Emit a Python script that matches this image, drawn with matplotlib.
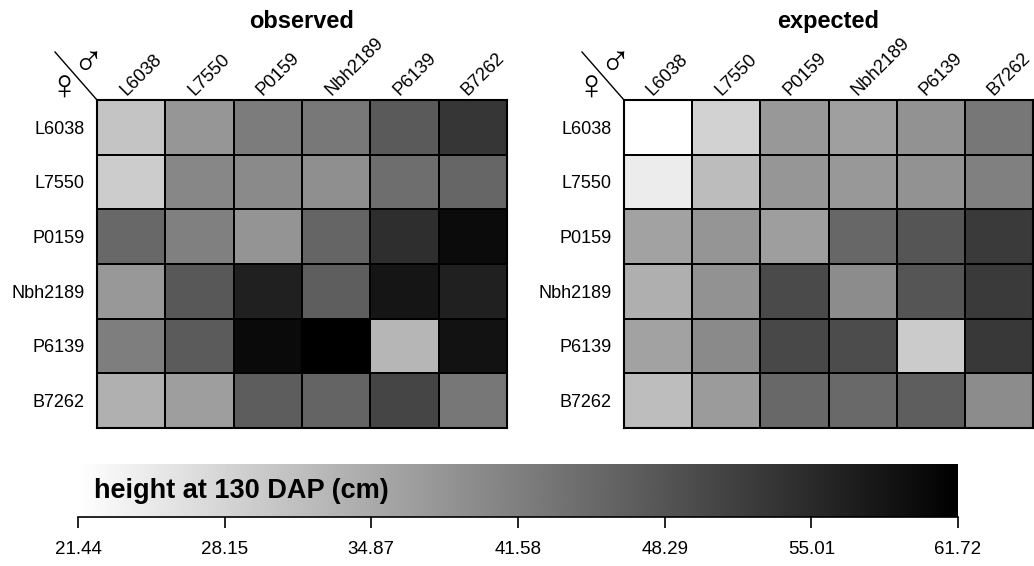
import numpy as np
import matplotlib
matplotlib.use("Agg")
import matplotlib.pyplot as plt
from matplotlib.colors import LinearSegmentedColormap

plt.rcParams['font.family'] = ['Liberation Sans', 'DejaVu Sans']

# parental lines (rows = female, columns = male)
lines = ["L6038", "L7550", "P0159", "Nbh2189", "P6139", "B7262"]

# plant height at 130 DAP (cm)
observed = np.array([
    [30.76, 38.03, 42.13, 42.76, 47.50, 53.19],
    [29.50, 40.40, 39.92, 39.13, 44.34, 45.61],
    [45.29, 41.50, 38.34, 45.77, 54.45, 59.98],
    [37.71, 47.82, 56.66, 46.87, 58.40, 56.66],
    [41.82, 47.35, 60.14, 61.72, 32.97, 58.88],
    [33.92, 36.76, 47.03, 45.92, 50.82, 42.92],
])
expected = np.array([
    [21.44, 28.55, 37.71, 36.60, 38.66, 42.92],
    [24.44, 32.02, 38.03, 37.71, 38.66, 41.50],
    [36.13, 38.18, 36.76, 45.45, 48.29, 52.56],
    [34.08, 38.66, 50.03, 39.61, 48.29, 52.56],
    [36.13, 39.92, 50.35, 49.71, 29.65, 52.87],
    [31.87, 37.24, 45.29, 45.13, 46.87, 39.61],
])

W, H = 1034, 566
fig = plt.figure(figsize=(W / 100, H / 100), dpi=100)

def px_axes(x0, y0, x1, y1):
    # axes from pixel box (top-left origin)
    return fig.add_axes([x0 / W, 1 - y1 / H, (x1 - x0) / W, (y1 - y0) / H])

cmap = LinearSegmentedColormap.from_list("wb", ["white", "black"])
vmin = min(observed.min(), expected.min())
vmax = max(observed.max(), expected.max())


def heat(ax, data, title, x0):
    n = len(lines)
    ax.pcolormesh(np.arange(n + 1), np.arange(n + 1), data, cmap=cmap,
                  vmin=vmin, vmax=vmax, edgecolors="black", linewidth=1.3)
    ax.set_xlim(0, n)
    ax.set_ylim(n, 0)
    ax.set_xticks([])
    ax.set_yticks(np.arange(n) + 0.5)
    ax.set_yticklabels(lines, fontsize=13)
    ax.tick_params(axis="y", length=0, pad=9)
    for s in ax.spines.values():
        s.set_linewidth(1.5)
    for i, lab in enumerate(lines):
        ax.annotate(lab, xy=(i + 0.5, 0), xycoords="data",
                    xytext=(-6, 5), textcoords="offset points",
                    rotation=45, rotation_mode="anchor",
                    ha="left", va="center", fontsize=13.2,
                    annotation_clip=False)
    ax.set_title(title, fontsize=17, fontweight="bold", pad=52)
    # female / male corner
    fig.add_artist(plt.Line2D([(x0 - 42) / W, x0 / W],
                              [1 - 52 / H, 1 - 100 / H],
                              color="black", linewidth=1))
    fig.text((x0 - 33) / W, 1 - 89 / H, "\u2640", fontsize=30,
             ha="center", va="center")
    fig.text((x0 - 9) / W, 1 - 64 / H, "\u2642", fontsize=30,
             ha="center", va="center")


ax1 = px_axes(97, 100, 507, 428)
heat(ax1, observed, "observed", 97)
ax2 = px_axes(624, 100, 1033, 428)
heat(ax2, expected, "expected", 624)

# colour key
cax = px_axes(78, 464, 958, 517)
grad = np.linspace(vmin, vmax, 512)[None, :]
cax.imshow(grad, cmap=cmap, vmin=vmin, vmax=vmax, aspect="auto",
           extent=[vmin, vmax, 0, 1])
for side in ["top", "left", "right"]:
    cax.spines[side].set_visible(False)
cax.spines["bottom"].set_linewidth(1.2)
ticks = np.linspace(vmin, vmax, 7)
cax.set_xticks(ticks)
cax.set_xticklabels([f"{t:.2f}" for t in ticks], fontsize=13.5)
cax.tick_params(axis="x", length=8, width=1.2, pad=9)
cax.set_yticks([])
cax.set_xlim(vmin, vmax)
cax.text(0.018, 0.5, "height at 130 DAP (cm)", transform=cax.transAxes,
         fontsize=19.5, fontweight="bold", ha="left", va="center")

fig.savefig("out.png", dpi=100)
